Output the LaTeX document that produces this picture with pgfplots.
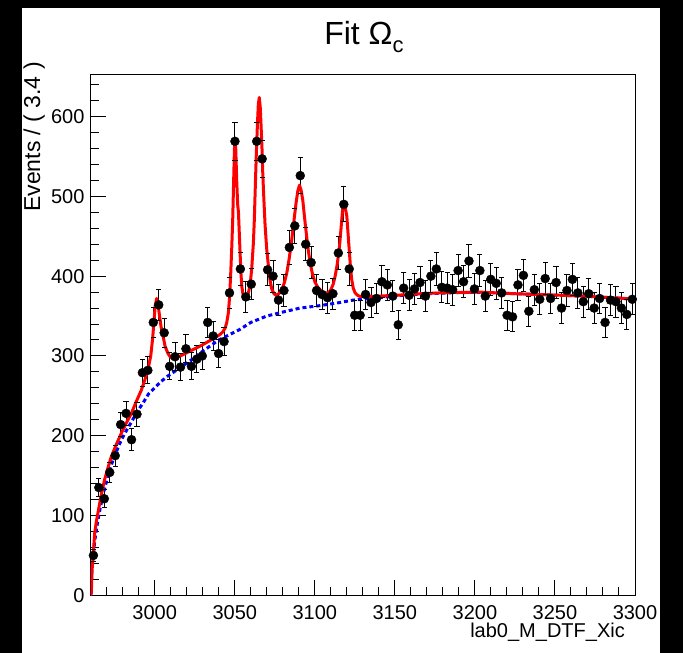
\documentclass[border=0pt]{standalone}
\usepackage{fontspec}
\setmainfont{Liberation Sans}
\usepackage{pgfplots}
\pgfplotsset{compat=1.18}
\usepackage{pgfplotstable}

\pgfplotstableread{
x y e
2961.7 50 7.1
2965.1 135 11.6
2968.5 121 11.0
2971.9 154 12.4
2975.3 175 13.2
2978.7 214 14.6
2982.1 228 15.1
2985.5 195 14.0
2988.9 227 15.1
2992.3 279 16.7
2995.7 282 16.8
2999.1 342 18.5
3002.5 364 19.1
3005.9 329 18.1
3009.3 287 16.9
3012.7 299 17.3
3016.1 286 16.9
3019.5 309 17.6
3022.9 287 16.9
3026.3 296 17.2
3029.7 300 17.3
3033.1 342 18.5
3036.5 325 18.0
3039.9 303 17.4
3043.3 318 17.8
3046.7 379 19.5
3050.1 569 23.9
3053.5 409 20.2
3056.9 374 19.3
3060.3 390 19.7
3063.7 569 23.9
3067.1 547 23.4
3070.5 408 20.2
3073.9 400 20.0
3077.3 370 19.2
3080.7 382 19.5
3084.1 436 20.9
3087.5 463 21.5
3090.9 526 22.9
3094.3 440 21.0
3097.7 417 20.4
3101.1 382 19.5
3104.5 377 19.4
3107.9 373 19.3
3111.3 378 19.4
3114.7 429 20.7
3118.1 490 22.1
3121.5 409 20.2
3124.9 351 18.7
3128.3 351 18.7
3131.7 377 19.4
3135.1 367 19.2
3138.5 372 19.3
3141.9 393 19.8
3145.3 389 19.7
3148.7 375 19.4
3152.1 339 18.4
3155.5 385 19.6
3158.9 376 19.4
3162.3 384 19.6
3165.7 392 19.8
3169.1 375 19.4
3172.5 400 20.0
3175.9 409 20.2
3179.3 386 19.6
3182.7 385 19.6
3186.1 383 19.6
3189.5 407 20.2
3192.9 393 19.8
3196.3 419 20.5
3199.7 384 19.6
3203.1 407 20.2
3206.5 375 19.4
3209.9 396 19.9
3213.3 391 19.8
3216.7 379 19.5
3220.1 351 18.7
3223.5 349 18.7
3226.9 389 19.7
3230.3 401 20.0
3233.7 356 18.9
3237.1 383 19.6
3240.5 371 19.3
3243.9 397 19.9
3247.3 372 19.3
3250.7 392 19.8
3254.1 360 19.0
3257.5 382 19.5
3260.9 396 19.9
3264.3 379 19.5
3267.7 368 19.2
3271.1 378 19.4
3274.5 360 19.0
3277.9 372 19.3
3281.3 342 18.5
3284.7 370 19.2
3288.1 368 19.2
3291.5 360 19.0
3294.9 352 18.8
3298.3 371 19.3
}\datatab

\pgfplotstableread{
x y
2960.0 0
2960.4 15
2960.8 32
2961.4 45
2962.5 68
2964 88
2966 110
2968 128
2970.8 150
2974 170
2978.1 190
2981 202
2985.4 217
2989 230
2992.7 241
2996 252
3000 260
3004 268
3008.3 275
3012 280
3015.6 285
3020 291
3025 298
3030 306
3035 313
3040 320
3047 327
3053 333
3060 342
3070 350
3080 355
3090.8 360
3103 363
3115.8 367
3124 370
3135 372
3145 374
3155 376
3166 377.5
3185 379.2
3203 379.8
3214 379
3225 378
3239 377
3250 376.3
3260 375.6
3270 374.8
3280 373.6
3290 372.5
3300 371
}\bluetab

\pgfplotstableread{
x y
2960.0 0
2960.4 3
2960.8 30
2961.4 46
2962.5 78
2963.5 92
2964.6 104
2966.5 125
2968.7 145
2970.8 160
2972.9 174
2976 189
2979.1 203
2982 215
2985.4 228
2988.5 243
2991.6 257
2994 271
2996 285
2997.5 300
2998.7 322
2999.5 343
3000.3 363
3001.2 372
3002 366
3003 350
3004 336
3005.2 325
3006.5 312
3008.3 303
3010 298
3011.5 297
3013 298
3016 300
3019 303
3022 306
3026 310
3029 313
3032.5 317
3036 321
3038.5 324
3040.8 327
3042.5 330
3044 335
3045 342
3046 354
3046.8 375
3047.5 405
3048.1 435
3048.7 470
3049.3 520
3049.8 560
3050.2 570
3050.6 560
3051.2 520
3051.8 490
3052.3 480
3052.8 455
3053.3 430
3053.9 402
3054.4 387
3055.3 375
3056.4 371
3057.5 374
3058.6 380
3059.6 389
3060.6 410
3061.6 441
3062.2 470
3062.7 504
3063.4 550
3064.1 588
3064.7 615
3065.3 624
3065.9 612
3066.4 590
3067 560
3067.5 528
3068.2 495
3068.9 465
3069.9 435
3071 413
3072 395
3073.1 384
3074.5 378
3075.8 376
3077.5 378
3079.4 383
3081 392
3082.5 404
3084 422
3085.6 446
3087 470
3088.3 492
3089.4 507
3090.4 514
3091.4 508
3092.5 495
3093.5 475
3094.6 455
3095.8 434
3097.1 417
3098.6 402
3100.2 392
3102.2 385
3104.4 381
3106.5 379
3108.5 379
3110 383
3111.5 390
3112.7 400
3114 415
3115.4 437
3116.5 463
3117.5 487
3118.1 493
3118.8 488
3120 475
3120.8 452
3121.6 430
3122.4 408
3123.1 395
3124 385
3125.2 379
3126.7 376
3128.3 374.5
3135 374.5
3145 375.5
3155 376.5
3166 378
3185 379.5
3203 380
3214 379
3225 378
3239 377
3250 376.3
3260 375.6
3270 374.8
3280 373.6
3290 372.5
3300 371
}\redtab

\begin{document}
\begin{tikzpicture}[x=1pt,y=1pt]
\fill[black] (0,0) rectangle (683,653);
\fill[white] (22,0) rectangle (660,645);
\begin{axis}[
  at={(90.7pt,57.7pt)}, anchor=south west,
  scale only axis, width=544.3pt, height=521pt,
  xmin=2960, xmax=3300, ymin=0, ymax=653,
  xtick={3000,3050,...,3300},
  minor xtick={2970,2980,2990,3010,3020,3030,3040,3060,3070,3080,3090,3110,3120,3130,3140,3160,3170,3180,3190,3210,3220,3230,3240,3260,3270,3280,3290},
  ytick={0,100,...,600},
  minor ytick={20,40,60,80,120,140,160,180,220,240,260,280,320,340,360,380,420,440,460,480,520,540,560,580,620,640},
  tick pos=left, tick align=inside,
  major tick length=15pt, minor tick length=8pt,
  every tick/.style={black, line width=1pt},
  axis line style={black, line width=1pt},
  /pgf/number format/assume math mode=true,
  /pgf/number format/1000 sep={},
  tick label style={font=\fontsize{20}{24}\selectfont},
  xticklabel style={anchor=north, inner sep=0pt, yshift=-10pt},
  yticklabel style={anchor=east, inner sep=0pt, xshift=-6pt},
]
\addplot[black, only marks, mark=*, mark size=4.5pt,
  error bars/.cd, y dir=both, y explicit,
  error mark=none,
  error bar style={line width=1pt, black}]
  table[x=x, y=y, y error=e]{\datatab};
\addplot[black, only marks, mark=-, mark size=2.6pt, mark options={line width=1pt}]
  table[x=x, y expr=\thisrow{y}+\thisrow{e}]{\datatab};
\addplot[black, only marks, mark=-, mark size=2.6pt, mark options={line width=1pt}]
  table[x=x, y expr=\thisrow{y}-\thisrow{e}]{\datatab};
\addplot[blue, line width=3pt, dash pattern=on 4pt off 3pt, no marks] table[x=x, y=y]{\bluetab};
\addplot[red, line width=3pt, line join=round, no marks] table[x=x, y=y]{\redtab};
\end{axis}
\node[anchor=base, inner sep=0pt] at (364,608) {\fontsize{32}{36}\selectfont Fit Ω\raisebox{-0.25em}{\fontsize{22}{26}\selectfont c}};
\node[anchor=base east, inner sep=0pt] at (625,15) {\fontsize{20}{24}\selectfont lab0\_M\_DTF\_Xic};
\node[rotate=90, anchor=base east, inner sep=0pt] at (40,591) {\fontsize{23}{27}\selectfont Events / ( 3.4 )};
\end{tikzpicture}
\end{document}
